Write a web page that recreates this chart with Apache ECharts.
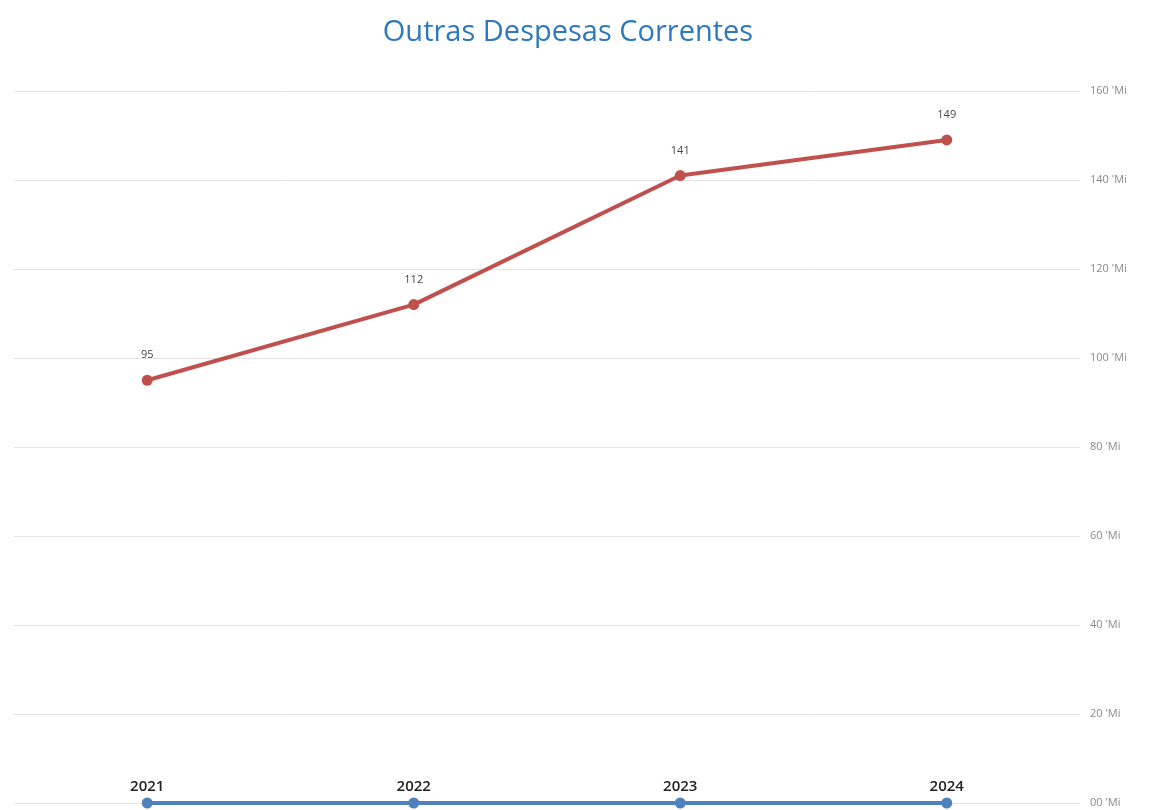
<!DOCTYPE html>
<html><head><meta charset="utf-8">
<script src="https://cdn.jsdelivr.net/npm/echarts@6/dist/echarts.min.js"></script>
<style>html,body{margin:0;padding:0;background:#fff}#c{width:1156px;height:810px}</style>
</head><body><div id="c"></div>
<script>
const categories = ['2021', '2022', '2023', '2024'];
const despesas = [95, 112, 141, 149];
const base = [0, 0, 0, 0];
const yTicks = {0: "00 'Mi", 20: "20 'Mi", 40: "40 'Mi", 60: "60 'Mi", 80: "80 'Mi", 100: "100 'Mi", 120: "120 'Mi", 140: "140 'Mi", 160: "160 'Mi"};

const chart = echarts.init(document.getElementById('c'));
chart.setOption({
  animation: false,
  title: {
    text: 'Outras Despesas Correntes', left: 563, top: 13, textAlign: 'center',
    textStyle: { color: '#2e78bd', fontSize: 29, fontWeight: 'normal', fontFamily: 'Open Sans' }
  },
  grid: { left: 14, right: 76, top: 91, bottom: 7 },
  xAxis: {
    type: 'category', data: categories, boundaryGap: true,
    axisLine: { show: false }, axisTick: { show: false }, axisLabel: { show: false }
  },
  yAxis: {
    type: 'value', position: 'right', min: 0, max: 160, interval: 20,
    axisLine: { show: false }, axisTick: { show: false },
    splitLine: { lineStyle: { color: '#e3e3e3', width: 1 } },
    axisLabel: { color: '#8a8a8a', fontSize: 11, fontFamily: 'Open Sans', margin: 10,
      formatter: v => yTicks[v] }
  },
  series: [
    {
      type: 'line', data: despesas, symbol: 'circle', symbolSize: 11,
      lineStyle: { color: '#c0504d', width: 4 }, itemStyle: { color: '#c0504d' },
      label: { show: true, position: 'top', distance: 14, color: '#444', fontSize: 11, fontFamily: 'Open Sans' }
    },
    {
      type: 'line', data: base, symbol: 'circle', symbolSize: 11,
      lineStyle: { color: '#4f81bd', width: 4 }, itemStyle: { color: '#4f81bd' },
      label: { show: true, position: 'top', distance: 3, color: '#222', fontSize: 15, fontWeight: 600, fontFamily: 'Open Sans',
        formatter: p => categories[p.dataIndex] }
    }
  ]
});
</script></body></html>
